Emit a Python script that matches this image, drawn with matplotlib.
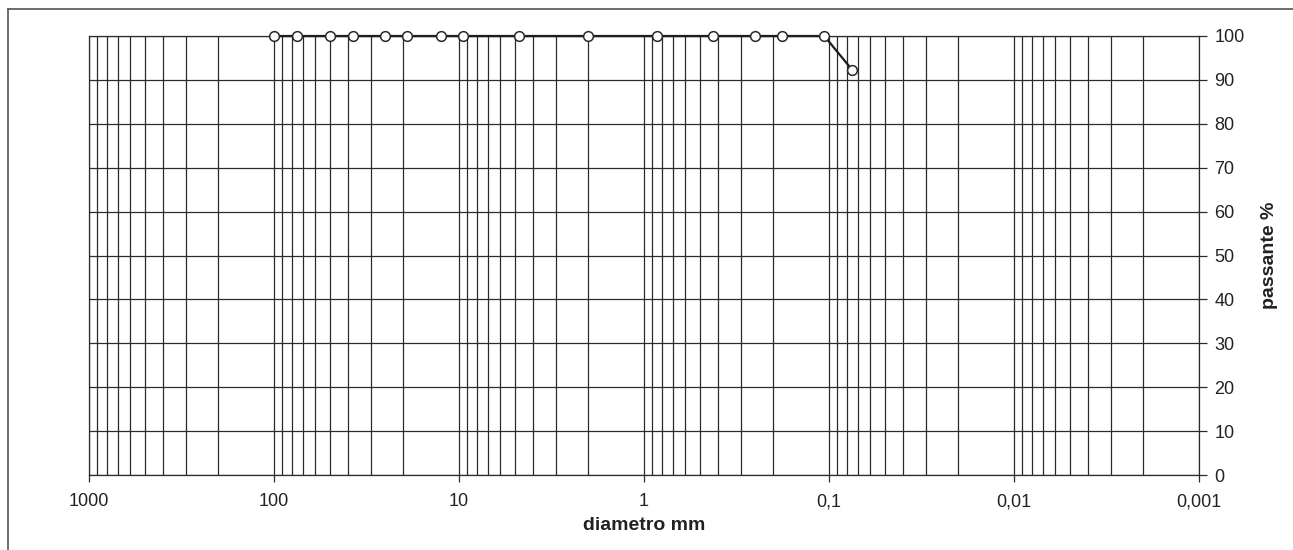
import numpy as np
import matplotlib.pyplot as plt
from matplotlib.lines import Line2D
from matplotlib.ticker import FixedLocator, NullFormatter

plt.rcParams['font.family'] = ['Liberation Sans', 'DejaVu Sans']

# sieve sizes (mm) and percent passing
diametro = [100, 75, 50, 37.5, 25, 19, 12.5, 9.5, 4.75, 2, 0.85, 0.425, 0.25, 0.18, 0.106, 0.075]
passante = [100, 100, 100, 100, 100, 100, 100, 100, 100, 100, 100, 100, 100, 100, 100, 92.3]

x_ticks = [1000, 100, 10, 1, 0.1, 0.01, 0.001]
x_labels = ['1000', '100', '10', '1', '0,1', '0,01', '0,001']
y_ticks = list(range(0, 101, 10))

grid_col = '#2b2b2b'

fig = plt.figure(figsize=(12.93, 5.5), dpi=100)
ax = fig.add_axes([89 / 1293, 75 / 550, (1199 - 89) / 1293, (474 - 35) / 550])

ax.set_xscale('log')
ax.set_xlim(1000, 0.001)
ax.set_ylim(0, 100)

# vertical grid on every 1..9 x 10^k
minor = [m * 10.0 ** k for k in range(-3, 3) for m in range(2, 10)]
ax.xaxis.set_major_locator(FixedLocator(x_ticks))
ax.xaxis.set_minor_locator(FixedLocator(minor))
ax.xaxis.set_minor_formatter(NullFormatter())
ax.set_xticklabels(x_labels)
ax.set_yticks(y_ticks)

ax.grid(True, which='both', axis='x', color=grid_col, lw=0.9)
ax.grid(True, which='major', axis='y', color=grid_col, lw=0.9)
ax.set_axisbelow(True)

for s in ax.spines.values():
    s.set_color(grid_col)
    s.set_linewidth(0.9)

ax.yaxis.tick_right()
ax.yaxis.set_label_position('right')
ax.tick_params(axis='y', which='both', left=False, right=True, direction='out',
               length=6, width=0.9, color=grid_col, labelsize=13, pad=5, labelcolor='#222222')
ax.tick_params(axis='x', which='major', direction='out', length=5, width=0.9,
               color=grid_col, labelsize=13, pad=8, labelcolor='#222222')
ax.tick_params(axis='x', which='minor', length=0)

ax.plot(diametro, passante, color='#1e1e1e', lw=1.6, marker='o', ms=7,
        mfc='white', mec='#2a2a2a', mew=1.1, clip_on=False, zorder=5)

ax.set_xlabel('diametro mm', fontsize=14, fontweight='bold', labelpad=5, color='#222222')
ax.set_ylabel('passante %', fontsize=14, fontweight='bold', labelpad=12, color='#222222')

# outer frame (top and left only visible)
fig.add_artist(Line2D([8 / 1293, 1], [1 - 9 / 550, 1 - 9 / 550], color='#555555', lw=1.2))
fig.add_artist(Line2D([8 / 1293, 8 / 1293], [0, 1 - 9 / 550], color='#555555', lw=1.2))

fig.savefig('out.png', dpi=100)
